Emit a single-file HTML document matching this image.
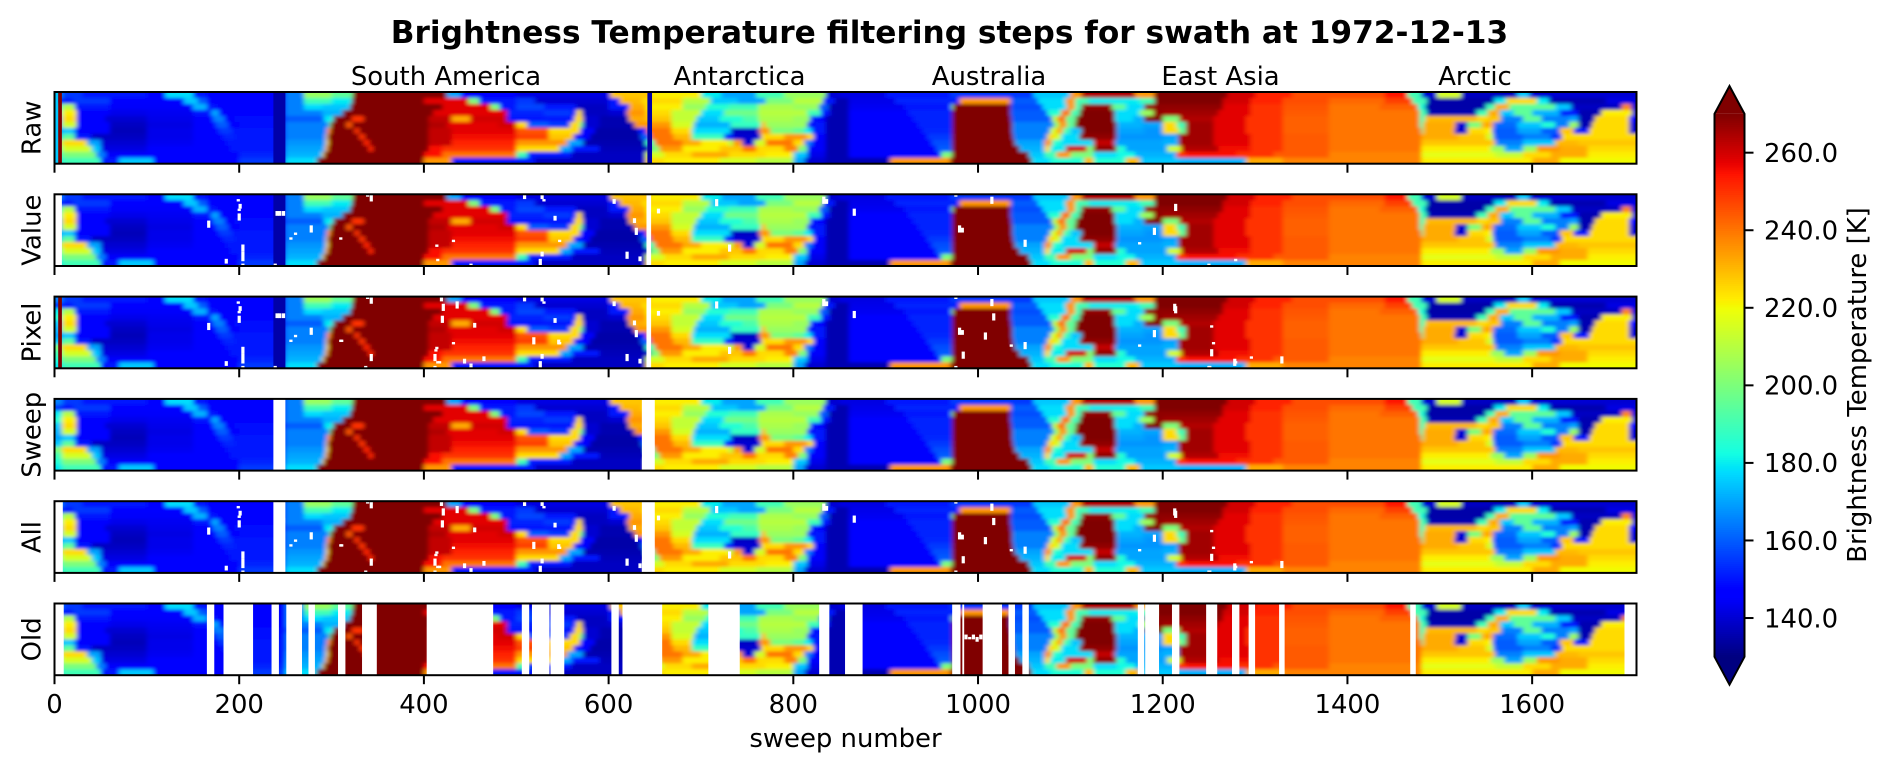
<!DOCTYPE html>
<html lang="en">
<head>
<meta charset="utf-8">
<title>Brightness Temperature filtering steps</title>
<style>
html,body{margin:0;padding:0;background:#fff;width:1892px;height:773px;overflow:hidden}
svg{display:block}
text{font-family:"DejaVu Sans","Liberation Sans",sans-serif;fill:#000}
</style>
</head>
<body>
<svg id="chart" xmlns="http://www.w3.org/2000/svg" width="1892" height="773" viewBox="0 0 1892 773">
<defs>
<filter id="soft" x="-5%" y="-30%" width="110%" height="160%"><feGaussianBlur stdDeviation="2.5 1.5"/></filter>
</defs>
<rect x="0" y="0" width="1892" height="773" fill="#fff"/>
<text x="949.5" y="43" text-anchor="middle" font-size="31.2" font-weight="bold">Brightness Temperature filtering steps for swath at 1972-12-13</text>
<text x="446" y="85" text-anchor="middle" font-size="25.9">South America</text>
<text x="739.5" y="85" text-anchor="middle" font-size="25.9">Antarctica</text>
<text x="989" y="85" text-anchor="middle" font-size="25.9">Australia</text>
<text x="1220.5" y="85" text-anchor="middle" font-size="25.9">East Asia</text>
<text x="1475" y="85" text-anchor="middle" font-size="25.9">Arctic</text>
<text x="845.5" y="747" text-anchor="middle" font-size="25.9">sweep number</text>
<text transform="translate(1866 385) rotate(-90)" text-anchor="middle" font-size="25.9">Brightness Temperature [K]</text>
<g id="strips"></g>
<g id="colorbar"></g>
</svg>
<script>
// ---- chart data ----
const stripNames = ['Raw','Value','Pixel','Sweep','All','Old'];
const xTicks = [0,200,400,600,800,1000,1200,1400,1600];
const colorbarTicks = [140,160,180,200,220,240,260];
const tempMin = 130;
const tempMax = 270;
const sweepMax = 1713;
// one entry per scan row, top to bottom; each run is [last sweep, brightness temperature K]
const brightnessRows = [
[[9,165],[30,155],[100,150],[120,148],[150,178],[165,150],[250,147],[270,165],[300,205],[323,195],[425,270],[440,170],[500,148],[602,142],[645,228],[700,222],[722,180],[760,170],[790,190],[835,205],[850,140],[900,142],[970,150],[1060,155],[1100,175],[1112,235],[1170,264],[1191,235],[1270,270],[1300,260],[1340,252],[1440,246],[1465,254],[1480,190],[1497,140],[1523,215],[1584,138],[1597,175],[1642,140],[1713,140]],
[[8,155],[20,150],[60,155],[100,148],[140,146],[155,175],[165,160],[250,147],[270,165],[300,190],[322,180],[400,270],[448,258],[460,200],[500,150],[520,155],[600,140],[612,150],[636,230],[680,225],[710,210],[740,175],[770,170],[800,200],[832,210],[845,150],[860,136],[910,143],[980,152],[1035,235],[1065,160],[1095,178],[1105,235],[1120,190],[1175,180],[1191,190],[1265,270],[1295,260],[1330,252],[1380,246],[1440,242],[1470,248],[1486,190],[1559,135],[1572,180],[1605,225],[1618,180],[1680,136],[1713,142]],
[[8,180],[22,210],[60,150],[100,145],[150,145],[165,172],[175,150],[250,148],[270,165],[290,178],[320,175],[420,270],[472,258],[482,200],[500,150],[530,157],[565,150],[600,138],[622,150],[640,232],[680,222],[705,205],[730,185],[762,190],[800,208],[828,205],[838,160],[860,136],[920,144],[971,150],[973,200],[1035,270],[1070,158],[1096,178],[1105,235],[1112,190],[1145,268],[1160,195],[1180,178],[1265,268],[1295,258],[1330,250],[1380,245],[1435,240],[1476,243],[1484,185],[1550,135],[1560,190],[1575,232],[1600,195],[1625,195],[1642,175],[1697,138],[1707,238],[1713,140]],
[[8,185],[24,222],[60,148],[100,143],[150,144],[170,150],[178,170],[190,148],[250,148],[290,165],[312,172],[410,270],[490,258],[530,152],[560,155],[565,150],[571,225],[600,138],[620,140],[640,235],[668,225],[700,212],[725,178],[762,198],[815,210],[830,190],[840,150],[860,136],[925,146],[972,152],[1035,270],[1075,160],[1090,185],[1100,240],[1110,190],[1148,270],[1175,178],[1190,205],[1200,268],[1260,266],[1295,258],[1330,250],[1380,244],[1450,240],[1478,240],[1486,190],[1540,136],[1552,190],[1565,232],[1580,175],[1600,195],[1630,172],[1650,150],[1675,136],[1708,222],[1713,140]],
[[8,175],[24,225],[55,148],[100,140],[150,143],[172,146],[184,165],[195,146],[250,149],[292,160],[302,180],[322,270],[335,250],[405,270],[430,262],[450,232],[490,260],[530,150],[563,150],[572,225],[590,140],[622,136],[640,232],[668,228],[695,212],[720,175],[745,185],[762,192],[800,208],[818,205],[825,150],[835,148],[860,136],[930,146],[972,152],[1036,270],[1080,160],[1086,210],[1095,240],[1106,195],[1148,270],[1168,178],[1180,172],[1200,270],[1218,200],[1255,264],[1290,258],[1330,250],[1380,243],[1478,240],[1484,190],[1540,230],[1552,225],[1566,228],[1590,165],[1610,195],[1640,165],[1650,170],[1668,136],[1705,225],[1713,145]],
[[8,172],[24,215],[60,146],[100,138],[150,142],[175,146],[188,160],[200,146],[250,149],[297,165],[299,200],[316,270],[322,245],[405,270],[425,264],[480,258],[500,260],[512,225],[535,160],[558,155],[568,225],[572,200],[590,140],[628,136],[640,235],[668,235],[692,215],[732,172],[765,188],[770,230],[800,205],[815,205],[822,145],[835,150],[860,136],[935,146],[972,152],[1037,270],[1082,165],[1088,205],[1096,235],[1105,195],[1150,270],[1178,172],[1200,170],[1215,225],[1225,190],[1255,266],[1290,258],[1330,250],[1380,243],[1478,240],[1482,190],[1517,232],[1530,140],[1545,200],[1558,232],[1584,162],[1610,175],[1625,185],[1640,165],[1650,205],[1665,136],[1705,225],[1713,140]],
[[8,170],[22,175],[60,146],[100,137],[150,143],[178,146],[192,155],[250,150],[295,165],[299,235],[325,270],[330,250],[405,270],[430,262],[500,258],[535,245],[569,225],[585,145],[632,135],[641,150],[668,240],[690,225],[732,178],[763,138],[775,235],[800,200],[812,195],[820,180],[835,150],[860,136],[940,146],[972,153],[1037,270],[1078,165],[1085,215],[1092,232],[1100,190],[1112,175],[1150,270],[1180,170],[1200,168],[1217,225],[1225,195],[1255,266],[1290,258],[1330,250],[1380,243],[1480,240],[1482,190],[1516,232],[1530,140],[1548,225],[1557,222],[1584,160],[1610,170],[1630,160],[1645,228],[1662,150],[1705,225],[1713,140]],
[[8,175],[22,195],[40,150],[100,138],[150,143],[182,146],[196,152],[250,150],[294,165],[296,225],[330,270],[336,250],[405,270],[430,262],[500,256],[535,248],[562,228],[580,146],[635,135],[645,160],[670,240],[690,230],[725,188],[735,150],[765,140],[790,225],[815,235],[822,225],[835,148],[860,136],[945,146],[972,155],[1038,270],[1075,165],[1083,225],[1090,215],[1110,178],[1150,268],[1200,168],[1217,170],[1255,266],[1295,258],[1330,250],[1380,244],[1480,240],[1520,232],[1550,228],[1558,215],[1590,160],[1620,165],[1632,155],[1650,225],[1713,225]],
[[8,200],[35,225],[50,170],[100,140],[150,144],[186,146],[200,150],[250,150],[294,168],[297,225],[335,270],[341,252],[405,270],[430,262],[500,252],[555,235],[572,170],[640,136],[650,190],[680,240],[700,232],[730,222],[735,210],[745,235],[758,140],[770,215],[800,240],[812,225],[820,165],[835,145],[860,136],[950,146],[972,158],[1040,270],[1072,170],[1080,235],[1090,185],[1125,178],[1148,262],[1200,170],[1217,172],[1255,266],[1295,258],[1330,250],[1380,244],[1480,240],[1560,228],[1590,165],[1625,175],[1650,230],[1713,228]],
[[8,190],[40,215],[50,175],[100,142],[150,146],[190,147],[250,150],[293,170],[296,230],[340,270],[345,252],[405,270],[420,255],[500,250],[547,225],[560,170],[590,150],[645,137],[655,200],[680,235],[720,222],[745,228],[760,240],[790,225],[805,238],[815,200],[835,145],[860,136],[955,146],[972,160],[1045,270],[1072,172],[1078,225],[1095,180],[1118,260],[1125,200],[1150,268],[1160,185],[1205,170],[1220,215],[1260,264],[1295,256],[1330,250],[1380,244],[1480,240],[1555,222],[1570,205],[1590,170],[1605,205],[1630,235],[1660,232],[1713,225]],
[[8,185],[45,200],[55,165],[100,145],[150,147],[200,148],[250,152],[290,172],[292,225],[400,270],[420,255],[500,240],[512,190],[560,150],[640,138],[660,215],[690,225],[730,232],[770,225],[800,222],[815,175],[835,143],[860,136],[960,146],[972,200],[1055,270],[1072,175],[1085,190],[1100,235],[1125,200],[1150,178],[1170,182],[1215,172],[1225,250],[1280,255],[1320,250],[1380,244],[1480,238],[1560,218],[1590,212],[1620,225],[1660,232],[1713,222]],
[[8,180],[50,190],[70,150],[107,175],[150,148],[200,148],[250,155],[284,178],[400,270],[430,235],[520,150],[640,138],[660,225],[720,222],[760,215],[800,210],[812,170],[835,140],[905,136],[970,235],[1058,270],[1078,178],[1115,185],[1125,230],[1160,185],[1175,230],[1218,175],[1290,172],[1330,232],[1480,238],[1520,222],[1600,222],[1630,232],[1713,220]]
];
// bad sweeps present in the unfiltered data: [first sweep, last sweep, temperature]
const rawBadSweeps = [[1,4,175],[4,8,270],[237,250,135],[642,647,135]];
const valueBadSweeps = [[237,250,135]];
const pixelBadSweeps = [[4,8,270],[237,250,135]];
// removed sweeps per strip: [first sweep, last sweep]
const rawGaps = [];
const valueGaps = [[0,8],[641,646]];
const pixelGaps = [[641,646]];
const sweepGaps = [[237,250],[636,650]];
const allGaps = [[0,9],[237,250],[636,650]];
const oldGaps = [[0,10],[165,173],[183,215],[235,243],[251,268],[275,282],[307,315],[333,349],[403,475],[506,514],[517,536],[537,552],[603,611],[615,658],[708,742],[828,839],[856,875],[972,981],[983,985],[1005,1026],[1033,1040],[1048,1055],[1173,1180],[1181,1196],[1210,1218],[1247,1259],[1275,1283],[1293,1300],[1326,1332],[1468,1474],[1700,1713]];
// removed single pixels: [sweep, row of 30, number of rows]
const valueSpecks = [[199,2,1],[201,4,2],[200,6,1],[200,8,3],[167,11,3],[204,21,3],[204,24,4],[204,29,1],[186,27,2],[239,29,1],[241,7,2],[244,7,2],[248,7,2],[256,18,1],[261,16,1],[278,13,3],[310,18,1],[339,0,1],[343,0,3],[414,21,1],[432,19,1],[415,27,1],[451,29,1],[509,0,2],[528,0,2],[530,2,1],[542,9,2],[547,19,1],[528,24,2],[526,27,3],[606,2,2],[628,10,2],[630,14,3],[620,24,3],[634,26,2],[644,26,3],[654,6,2],[717,2,3],[731,21,3],[833,1,3],[836,2,2],[866,6,3],[976,0,1],[1015,1,3],[980,13,3],[983,14,2],[1051,19,3],[1175,20,1],[1191,14,3],[1214,4,3],[1279,27,1],[1250,29,1]];
const pixelSpecks = [[419,0,2],[421,3,3],[436,2,3],[420,8,3],[455,11,2],[413,22,1],[412,24,3],[417,27,1],[444,26,2],[451,28,1],[465,25,2],[412,29,1],[519,17,3],[546,18,2],[337,29,1],[343,24,3],[311,18,1],[1017,7,3],[1008,15,3],[1036,20,1],[984,23,3],[976,29,1],[1213,3,3],[1253,12,1],[1255,19,1],[1253,22,3],[1278,26,3],[1296,25,1],[1329,25,3],[1251,29,1]];
const oldSpecks = [[987,13,2],[991,14,1],[995,13,2],[999,14,2],[1003,13,2]];
const stripBadSweeps = [rawBadSweeps,valueBadSweeps,pixelBadSweeps,[],[],[]];
const stripGaps = [rawGaps,valueGaps,pixelGaps,sweepGaps,allGaps,oldGaps];
const stripSpecks = [[],valueSpecks,valueSpecks.concat(pixelSpecks),[],valueSpecks.concat(pixelSpecks),oldSpecks];

// ---- layout and scales ----
const NS = 'http://www.w3.org/2000/svg';
const axLeft = 54.5, axRight = 1636.5, axTop = 92, axHeight = 71.7, axPitch = 102.3;
const cbLeft = 1714.5, cbRight = 1744.5, cbTop = 113.9, cbBottom = 656.8;
function xScale(s){ return axLeft + s / sweepMax * (axRight - axLeft); }
function stripTop(i){ return axTop + i * axPitch; }
function cbScale(t){ return cbBottom - (t - tempMin) / (tempMax - tempMin) * (cbBottom - cbTop); }
function ramp(v, pts){
  for (let i = 1; i < pts.length; i++) {
    if (v <= pts[i][0]) {
      const a = pts[i-1], b = pts[i];
      return a[1] + (b[1] - a[1]) * (v - a[0]) / (b[0] - a[0]);
    }
  }
  return pts[pts.length-1][1];
}
function jet(t){
  const v = Math.max(0, Math.min(1, (t - tempMin) / (tempMax - tempMin)));
  const r = ramp(v, [[0,0],[0.35,0],[0.66,1],[0.89,1],[1,0.5]]);
  const g = ramp(v, [[0,0],[0.125,0],[0.375,1],[0.64,1],[0.91,0],[1,0]]);
  const b = ramp(v, [[0,0.5],[0.11,1],[0.34,1],[0.65,0],[1,0]]);
  return 'rgb(' + Math.round(r*255) + ',' + Math.round(g*255) + ',' + Math.round(b*255) + ')';
}
function make(tag, attrs, parent){
  const el = document.createElementNS(NS, tag);
  for (const k in attrs) el.setAttribute(k, attrs[k]);
  parent.appendChild(el);
  return el;
}

// ---- strips ----
const stripsRoot = document.getElementById('strips');
const defs = document.querySelector('defs');
stripNames.forEach(function(name, si){
  const top = stripTop(si);
  const key = name.toLowerCase();
  const group = make('g', {}, stripsRoot);
  
  

  const clip = make('clipPath', {id: 'clip-' + key}, defs);
  make('rect', {x: axLeft, y: top, width: axRight - axLeft, height: axHeight}, clip);

  const clipped = make('g', {'clip-path': 'url(#clip-' + key + ')'}, group);
  const soft = make('g', {filter: 'url(#soft)'}, clipped);
  
  

  const rowCount = brightnessRows.length;
  const rowH = axHeight / rowCount;
  brightnessRows.forEach(function(runs, ri){
    let start = 0;
    runs.forEach(function(run, k){
      const x0 = xScale(start);
      const x1 = xScale(run[0]);
      const padTop = ri === 0 ? 20 : 0;
      const padBottom = ri === rowCount - 1 ? 20 : 0;
      const padLeft = k === 0 ? 20 : 0;
      const padRight = k === runs.length - 1 ? 20 : 0;
      const cell = make('rect', {
        x: x0 - padLeft,
        y: top + ri * rowH - padTop,
        width: x1 - x0 + padLeft + padRight + 0.4,
        height: rowH + padTop + padBottom + 0.4,
        fill: jet(run[1])
      }, soft);
      
      
      start = run[0];
    });
  });

  stripBadSweeps[si].forEach(function(b){
    const bar = make('rect', {x: xScale(b[0]), y: top, width: xScale(b[1]) - xScale(b[0]), height: axHeight, fill: jet(b[2])}, clipped);
    
    
  });
  stripGaps[si].forEach(function(g){
    const gap = make('rect', {x: xScale(g[0]), y: top, width: xScale(g[1]) - xScale(g[0]), height: axHeight, fill: '#fff'}, clipped);
    
    
  });
  stripSpecks[si].forEach(function(p){
    const h = axHeight / 30;
    const speck = make('rect', {x: xScale(p[0]) - 1.6, y: top + p[1] * h, width: 3.2, height: p[2] * h, fill: '#fff'}, clipped);
    
    
  });

  const frame = make('rect', {x: axLeft, y: top, width: axRight - axLeft, height: axHeight, fill: 'none', stroke: '#000', 'stroke-width': 2}, group);
  
  

  xTicks.forEach(function(t){
    const tick = make('line', {x1: xScale(t), x2: xScale(t), y1: top + axHeight, y2: top + axHeight + 9, stroke: '#000', 'stroke-width': 2}, group);
    
    
    if (si === stripNames.length - 1) {
      const lab = make('text', {x: xScale(t), y: top + axHeight + 38, 'text-anchor': 'middle', 'font-size': 25.9}, group);
      lab.textContent = t;
      
      
    }
  });

  const yl = make('text', {transform: 'translate(40.5 ' + (top + axHeight / 2) + ') rotate(-90)', 'text-anchor': 'middle', 'font-size': 25.9}, group);
  yl.textContent = name;
  
  
});

// ---- colorbar ----
const cb = document.getElementById('colorbar');
const cbSteps = 256;
for (let i = 0; i < cbSteps; i++) {
  const t0 = tempMin + (tempMax - tempMin) * i / cbSteps;
  const t1 = tempMin + (tempMax - tempMin) * (i + 1) / cbSteps;
  const seg = make('rect', {x: cbLeft, y: cbScale(t1), width: cbRight - cbLeft, height: cbScale(t0) - cbScale(t1) + 0.5, fill: jet((t0 + t1) / 2)}, cb);
  
  
}
const cbMid = (cbLeft + cbRight) / 2;
const arrowUp = make('polygon', {points: cbLeft + ',' + cbTop + ' ' + cbMid + ',86 ' + cbRight + ',' + cbTop, fill: '#800000'}, cb);


const arrowDown = make('polygon', {points: cbLeft + ',' + cbBottom + ' ' + cbMid + ',684.7 ' + cbRight + ',' + cbBottom, fill: '#000080'}, cb);


const outline = make('polygon', {points: cbLeft + ',' + cbTop + ' ' + cbMid + ',86 ' + cbRight + ',' + cbTop + ' ' + cbRight + ',' + cbBottom + ' ' + cbMid + ',684.7 ' + cbLeft + ',' + cbBottom, fill: 'none', stroke: '#000', 'stroke-width': 2}, cb);


colorbarTicks.forEach(function(t){
  const tick = make('line', {x1: cbRight, x2: cbRight + 9, y1: cbScale(t), y2: cbScale(t), stroke: '#000', 'stroke-width': 2}, cb);
  
  
  const lab = make('text', {x: 1764, y: cbScale(t) + 9.3, 'font-size': 25.9}, cb);
  lab.textContent = t.toFixed(1);
  
  
});
</script>
</body>
</html>
